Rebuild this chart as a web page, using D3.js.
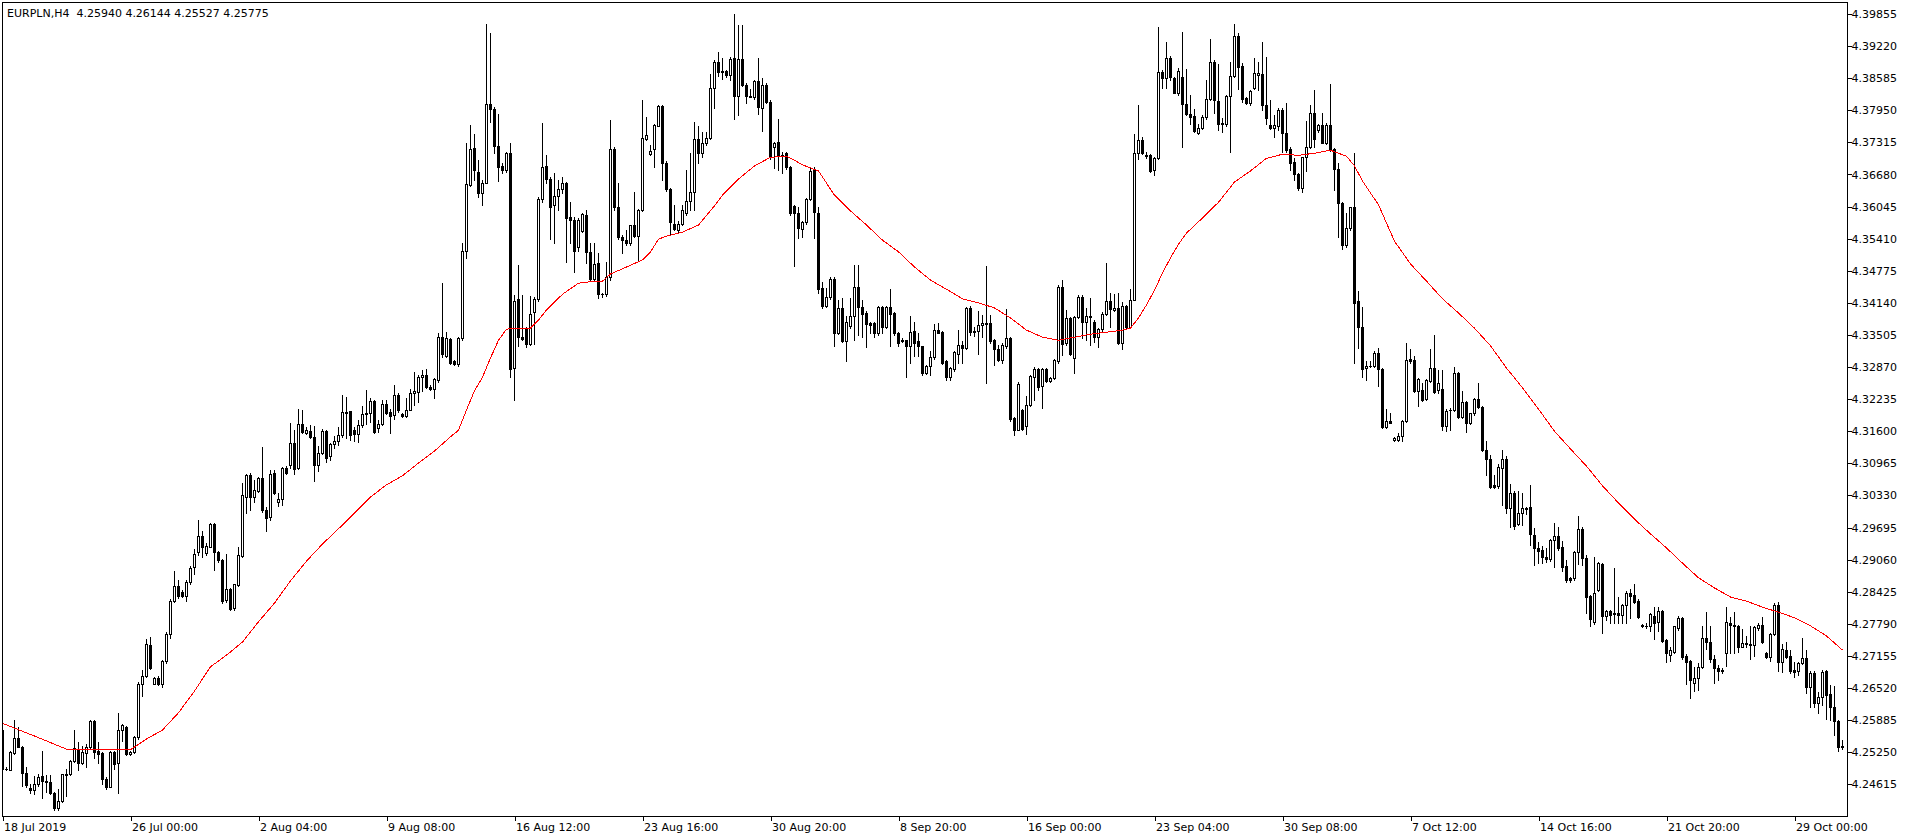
<!DOCTYPE html>
<html><head><meta charset="utf-8">
<script src="https://cdn.jsdelivr.net/npm/d3@7"></script>
<style>
html,body{margin:0;padding:0;background:#fff;overflow:hidden}
svg{display:block}
text{font-family:"DejaVu Sans",Verdana,sans-serif;font-size:11px;fill:#000}
</style></head><body>
<svg id="c" width="1916" height="840"></svg>
<script>
const symbol = "EURPLN,H4";
const lastQuote = ["4.25940","4.26144","4.25527","4.25775"];

const opens = [
4.2568,4.2492,4.2490,4.2523,4.2553,4.2536,4.2483,4.2454,4.2450,4.2462,
4.2477,4.2469,4.2466,4.2444,4.2415,4.2428,4.2481,4.2481,4.2507,4.2532,
4.2503,4.2523,4.2535,4.2587,4.2527,4.2523,4.2472,4.2457,4.2525,4.2503,
4.2568,4.2575,4.2521,4.2525,4.2555,4.2659,4.2675,4.2738,4.2660,4.2672,
4.2659,4.2705,4.2759,4.2824,4.2854,4.2842,4.2835,4.2862,4.2891,4.2921,
4.2953,4.2919,4.2931,4.2977,4.2922,4.2905,4.2827,4.2848,4.2810,4.2855,
4.2913,4.3030,4.3074,4.3029,4.3042,4.3068,4.3005,4.2990,4.3078,4.3021,
4.3025,4.3088,4.3093,4.3137,4.3088,4.3174,4.3157,4.3160,4.3148,4.3093,
4.3117,4.3160,4.3111,4.3134,4.3140,4.3152,4.3198,4.3200,4.3162,4.3155,
4.3172,4.3195,4.3196,4.3219,4.3167,4.3174,4.3214,4.3198,4.3192,4.3231,
4.3195,4.3191,4.3203,4.3236,4.3238,4.3267,4.3271,4.3248,4.3244,4.3261,
4.3346,4.3309,4.3342,4.3298,4.3293,4.3344,4.3517,4.3647,4.3720,4.3672,
4.3631,4.3652,4.3807,4.3797,4.3725,4.3685,4.3676,4.3710,4.3285,4.3421,
4.3346,4.3364,4.3333,4.3395,4.3421,4.3619,4.3685,4.3660,4.3608,4.3625,
4.3639,4.3652,4.3583,4.3578,4.3525,4.3557,4.3588,4.3514,4.3461,4.3492,
4.3431,4.3431,4.3466,4.3718,4.3603,4.3544,4.3539,4.3532,4.3568,4.3546,
4.3597,4.3738,4.3708,4.3718,4.3764,4.3803,4.3691,4.3639,4.3571,4.3558,
4.3570,4.3591,4.3616,4.3634,4.3738,4.3711,4.3730,4.3740,4.3840,4.3891,
4.3873,4.3873,4.3865,4.3898,4.3824,4.3896,4.3845,4.3824,4.3822,4.3852,
4.3799,4.3845,4.3812,4.3722,4.3732,4.3707,4.3711,4.3682,4.3606,4.3591,
4.3560,4.3573,4.3619,4.3676,4.3591,4.3443,4.3408,4.3425,4.3461,4.3355,
4.3403,4.3338,4.3369,4.3388,4.3445,4.3405,4.3394,4.3375,4.3374,4.3354,
4.3405,4.3367,4.3405,4.3394,4.3354,4.3341,4.3340,4.3328,4.3359,4.3338,
4.3328,4.3276,4.3289,4.3307,4.3361,4.3357,4.3298,4.3268,4.3283,4.3313,
4.3331,4.3324,4.3403,4.3359,4.3359,4.3371,4.3375,4.3374,4.3341,4.3322,
4.3301,4.3329,4.3344,4.3186,4.3163,4.3202,4.3170,4.3212,4.3268,4.3283,
4.3249,4.3283,4.3260,4.3265,4.3298,4.3446,4.3334,4.3384,4.3305,4.3387,
4.3426,4.3377,4.3388,4.3377,4.3346,4.3362,4.3392,4.3417,4.3399,4.3403,
4.3334,4.3407,4.3367,4.3420,4.3710,4.3736,4.3707,4.3707,4.3676,4.3700,
4.3871,4.3858,4.3898,4.3858,4.3830,4.3860,4.3807,4.3788,4.3784,4.3751,
4.3759,4.3781,4.3817,4.3891,4.3814,4.3769,4.3768,4.3823,4.3863,4.3942,
4.3882,4.3819,4.3810,4.3840,4.3865,4.3867,4.3805,4.3766,4.3759,4.3764,
4.3796,4.3751,4.3718,4.3693,4.3669,4.3641,4.3702,4.3722,4.3789,4.3756,
4.3766,4.3731,4.3766,4.3718,4.3678,4.3612,4.3529,4.3562,4.3603,4.3417,
4.3366,4.3285,4.3289,4.3289,4.3314,4.3283,4.3168,4.3181,4.3142,4.3143,
4.3151,4.3181,4.3303,4.3300,4.3239,4.3241,4.3224,4.3260,4.3285,4.3242,
4.3243,4.3171,4.3202,4.3202,4.3275,4.3188,4.3217,4.3177,4.3196,4.3224,
4.3207,4.3122,4.3105,4.3054,4.3052,4.3087,4.3105,4.3008,4.3037,4.2977,
4.2999,4.3008,4.3010,4.2955,4.2929,4.2925,4.2911,4.2907,4.2945,4.2953,
4.2930,4.2894,4.2869,4.2869,4.2922,4.2966,4.2909,4.2834,4.2783,4.2846,
4.2898,4.2795,4.2805,4.2800,4.2800,4.2797,4.2816,4.2840,4.2836,4.2825,
4.2777,4.2774,4.2774,4.2795,4.2782,4.2805,4.2747,4.2718,4.2724,4.2770,
4.2790,4.2715,4.2706,4.2661,4.2671,4.2693,4.2750,4.2744,4.2709,4.2691,
4.2688,4.2721,4.2780,4.2777,4.2775,4.2734,4.2742,4.2739,4.2737,4.2770,
4.2777,4.2722,4.2714,4.2759,4.2816,4.2704,4.2727,4.2715,4.2687,4.2685,
4.2702,4.2711,4.2654,4.2681,4.2622,4.2635,4.2685,4.2640,4.2614,4.2586,4.2538];

const highs = [
4.2569,4.2495,4.2528,4.2588,4.2575,4.2538,4.2495,4.2462,4.2477,4.2482,
4.2528,4.2479,4.2480,4.2446,4.2453,4.2482,4.2492,4.2510,4.2569,4.2545,
4.2538,4.2542,4.2589,4.2588,4.2545,4.2525,4.2476,4.2527,4.2528,4.2602,
4.2580,4.2576,4.2528,4.2558,4.2664,4.2687,4.2748,4.2753,4.2674,4.2675,
4.2708,4.2763,4.2829,4.2883,4.2865,4.2845,4.2865,4.2893,4.2928,4.2984,
4.2963,4.2938,4.2978,4.2978,4.2924,4.2908,4.2918,4.2850,4.2858,4.2931,
4.3058,4.3076,4.3078,4.3063,4.3070,4.3129,4.3010,4.3083,4.3083,4.3037,
4.3089,4.3091,4.3177,4.3162,4.3205,4.3202,4.3169,4.3172,4.3170,4.3130,
4.3165,4.3162,4.3137,4.3150,4.3169,4.3231,4.3228,4.3201,4.3169,4.3182,
4.3210,4.3241,4.3225,4.3221,4.3183,4.3221,4.3221,4.3205,4.3251,4.3235,
4.3196,4.3225,4.3243,4.3277,4.3271,4.3281,4.3283,4.3252,4.3265,4.3354,
4.3453,4.3357,4.3344,4.3300,4.3347,4.3533,4.3730,4.3766,4.3748,4.3697,
4.3657,4.3966,4.3948,4.3801,4.3788,4.3691,4.3713,4.3730,4.3430,4.3489,
4.3430,4.3367,4.3428,4.3426,4.3624,4.3769,4.3707,4.3664,4.3670,4.3657,
4.3664,4.3654,4.3614,4.3583,4.3581,4.3591,4.3598,4.3532,4.3532,4.3512,
4.3434,4.3494,4.3776,4.3723,4.3652,4.3548,4.3558,4.3569,4.3634,4.3599,
4.3815,4.3782,4.3726,4.3768,4.3805,4.3805,4.3695,4.3641,4.3608,4.3575,
4.3608,4.3677,4.3711,4.3772,4.3764,4.3753,4.3753,4.3867,4.3894,4.3911,
4.3898,4.3875,4.3900,4.3985,4.3964,4.3964,4.3848,4.3838,4.3854,4.3898,
4.3858,4.3848,4.3815,4.3733,4.3777,4.3713,4.3713,4.3685,4.3608,4.3603,
4.3575,4.3621,4.3683,4.3682,4.3604,4.3456,4.3443,4.3466,4.3465,4.3420,
4.3423,4.3388,4.3423,4.3489,4.3488,4.3420,4.3397,4.3377,4.3377,4.3408,
4.3408,4.3408,4.3441,4.3395,4.3357,4.3344,4.3341,4.3388,4.3377,4.3354,
4.3329,4.3291,4.3318,4.3372,4.3374,4.3359,4.3300,4.3288,4.3318,4.3361,
4.3338,4.3405,4.3407,4.3367,4.3397,4.3390,4.3487,4.3390,4.3342,4.3331,
4.3334,4.3401,4.3346,4.3189,4.3258,4.3204,4.3229,4.3272,4.3287,4.3285,
4.3285,4.3285,4.3268,4.3303,4.3450,4.3459,4.3400,4.3386,4.3388,4.3430,
4.3430,4.3403,4.3423,4.3380,4.3364,4.3395,4.3492,4.3433,4.3432,4.3433,
4.3415,4.3410,4.3441,4.3749,4.3805,4.3743,4.3713,4.3709,4.3703,4.3960,
4.3875,4.3931,4.3902,4.3860,4.3878,4.3950,4.3876,4.3825,4.3797,4.3768,
4.3786,4.3855,4.3937,4.3894,4.3886,4.3779,4.3825,4.3891,4.3966,4.3947,
4.3888,4.3822,4.3836,4.3898,4.3891,4.3931,4.3900,4.3815,4.3786,4.3799,
4.3799,4.3809,4.3723,4.3700,4.3670,4.3703,4.3774,4.3805,4.3835,4.3768,
4.3789,4.3769,4.3847,4.3720,4.3690,4.3614,4.3591,4.3604,4.3710,4.3438,
4.3405,4.3298,4.3298,4.3318,4.3324,4.3285,4.3204,4.3197,4.3148,4.3156,
4.3183,4.3334,4.3322,4.3309,4.3265,4.3256,4.3263,4.3322,4.3351,4.3282,
4.3282,4.3204,4.3206,4.3287,4.3278,4.3239,4.3219,4.3197,4.3225,4.3255,
4.3209,4.3141,4.3113,4.3074,4.3095,4.3123,4.3111,4.3056,4.3041,4.3041,
4.3037,4.3011,4.3054,4.2968,4.2940,4.2932,4.2929,4.2946,4.2979,4.2971,
4.2942,4.2905,4.2872,4.2924,4.2992,4.2971,4.2915,4.2836,4.2912,4.2902,
4.2899,4.2807,4.2807,4.2889,4.2833,4.2818,4.2843,4.2847,4.2858,4.2828,
4.2778,4.2780,4.2800,4.2812,4.2812,4.2807,4.2749,4.2734,4.2775,4.2795,
4.2792,4.2719,4.2708,4.2694,4.2702,4.2774,4.2803,4.2774,4.2717,4.2698,
4.2691,4.2812,4.2793,4.2803,4.2777,4.2768,4.2754,4.2774,4.2774,4.2780,
4.2792,4.2723,4.2760,4.2821,4.2823,4.2739,4.2744,4.2727,4.2704,4.2704,
4.2750,4.2727,4.2685,4.2685,4.2645,4.2688,4.2687,4.2658,4.2656,4.2588,4.2549];

const lows = [
4.2489,4.2489,4.2489,4.2522,4.2535,4.2459,4.2456,4.2444,4.2443,4.2459,
4.2435,4.2446,4.2443,4.2411,4.2410,4.2426,4.2439,4.2479,4.2505,4.2489,
4.2501,4.2495,4.2534,4.2514,4.2503,4.2462,4.2453,4.2456,4.2492,4.2444,
4.2548,4.2519,4.2519,4.2523,4.2552,4.2637,4.2674,4.2690,4.2659,4.2657,
4.2654,4.2701,4.2750,4.2822,4.2831,4.2832,4.2825,4.2858,4.2877,4.2915,
4.2912,4.2916,4.2930,4.2886,4.2901,4.2820,4.2822,4.2807,4.2806,4.2853,
4.2912,4.2998,4.3004,4.3020,4.3040,4.3000,4.2963,4.2984,4.3035,4.3012,
4.3014,4.3076,4.3088,4.3075,4.3086,4.3157,4.3154,4.3146,4.3062,4.3082,
4.3115,4.3099,4.3104,4.3126,4.3132,4.3149,4.3146,4.3142,4.3141,4.3138,
4.3169,4.3175,4.3179,4.3157,4.3159,4.3172,4.3195,4.3157,4.3185,4.3198,
4.3188,4.3188,4.3202,4.3212,4.3218,4.3240,4.3246,4.3242,4.3226,4.3257,
4.3307,4.3307,4.3293,4.3291,4.3289,4.3341,4.3502,4.3645,4.3657,4.3624,
4.3608,4.3651,4.3772,4.3711,4.3656,4.3670,4.3672,4.3267,4.3222,4.3328,
4.3341,4.3326,4.3331,4.3333,4.3417,4.3614,4.3652,4.3541,4.3533,4.3597,
4.3632,4.3494,4.3533,4.3476,4.3517,4.3555,4.3492,4.3458,4.3459,4.3423,
4.3426,4.3428,4.3459,4.3597,4.3540,4.3512,4.3529,4.3529,4.3544,4.3496,
4.3595,4.3736,4.3707,4.3683,4.3763,4.3657,4.3636,4.3548,4.3558,4.3555,
4.3568,4.3588,4.3598,4.3597,4.3691,4.3703,4.3726,4.3738,4.3799,4.3863,
4.3856,4.3860,4.3855,4.3777,4.3786,4.3843,4.3810,4.3821,4.3817,4.3788,
4.3755,4.3809,4.3698,4.3680,4.3677,4.3670,4.3678,4.3588,4.3486,4.3542,
4.3544,4.3570,4.3618,4.3542,4.3434,4.3403,4.3405,4.3421,4.3328,4.3353,
4.3336,4.3298,4.3364,4.3341,4.3351,4.3347,4.3326,4.3354,4.3346,4.3351,
4.3354,4.3364,4.3328,4.3351,4.3329,4.3336,4.3267,4.3295,4.3309,4.3309,
4.3272,4.3274,4.3272,4.3303,4.3354,4.3293,4.3262,4.3262,4.3280,4.3295,
4.3295,4.3322,4.3351,4.3349,4.3313,4.3347,4.3255,4.3334,4.3291,4.3298,
4.3295,4.3324,4.3181,4.3153,4.3162,4.3163,4.3155,4.3210,4.3221,4.3241,
4.3206,4.3258,4.3258,4.3263,4.3296,4.3311,4.3331,4.3311,4.3276,4.3384,
4.3344,4.3340,4.3331,4.3336,4.3326,4.3359,4.3390,4.3367,4.3397,4.3333,
4.3322,4.3364,4.3364,4.3419,4.3698,4.3709,4.3700,4.3672,4.3667,4.3698,
4.3840,4.3840,4.3855,4.3829,4.3825,4.3722,4.3786,4.3768,4.3753,4.3749,
4.3757,4.3777,4.3815,4.3789,4.3756,4.3753,4.3764,4.3713,4.3861,4.3838,
4.3812,4.3807,4.3805,4.3838,4.3836,4.3796,4.3768,4.3757,4.3742,4.3756,
4.3713,4.3713,4.3677,4.3657,4.3637,4.3634,4.3674,4.3720,4.3723,4.3753,
4.3730,4.3728,4.3715,4.3637,4.3545,4.3520,4.3525,4.3558,4.3295,4.3324,
4.3268,4.3262,4.3288,4.3287,4.3249,4.3166,4.3166,4.3176,4.3140,4.3140,
4.3140,4.3179,4.3296,4.3237,4.3210,4.3219,4.3221,4.3258,4.3235,4.3235,
4.3162,4.3160,4.3163,4.3201,4.3186,4.3186,4.3158,4.3175,4.3192,4.3206,
4.3120,4.3074,4.3047,4.3047,4.3047,4.3014,4.2999,4.2970,4.2966,4.2975,
4.2975,4.2996,4.2935,4.2896,4.2900,4.2899,4.2902,4.2904,4.2891,4.2925,
4.2884,4.2861,4.2861,4.2865,4.2898,4.2896,4.2800,4.2774,4.2779,4.2843,
4.2760,4.2787,4.2780,4.2780,4.2780,4.2780,4.2780,4.2790,4.2820,4.2790,
4.2772,4.2770,4.2764,4.2749,4.2764,4.2744,4.2704,4.2706,4.2721,4.2767,
4.2709,4.2660,4.2632,4.2647,4.2648,4.2691,4.2729,4.2704,4.2661,4.2668,
4.2681,4.2696,4.2722,4.2722,4.2724,4.2733,4.2734,4.2709,4.2715,4.2767,
4.2742,4.2712,4.2706,4.2757,4.2685,4.2683,4.2711,4.2681,4.2673,4.2678,
4.2700,4.2642,4.2615,4.2615,4.2602,4.2619,4.2590,4.2588,4.2559,4.2528,4.2531];

const closes = [
4.2492,4.2491,4.2525,4.2553,4.2536,4.2483,4.2461,4.2450,4.2462,4.2476,
4.2469,4.2466,4.2444,4.2415,4.2428,4.2481,4.2480,4.2507,4.2534,4.2503,
4.2525,4.2535,4.2586,4.2525,4.2522,4.2472,4.2457,4.2525,4.2502,4.2569,
4.2578,4.2521,4.2525,4.2556,4.2659,4.2675,4.2740,4.2692,4.2672,4.2660,
4.2705,4.2759,4.2824,4.2854,4.2835,4.2835,4.2862,4.2890,4.2918,4.2953,
4.2931,4.2933,4.2977,4.2921,4.2905,4.2825,4.2848,4.2809,4.2857,4.2915,
4.3033,4.3074,4.3029,4.3043,4.3068,4.3005,4.2989,4.3076,4.3037,4.3025,
4.3087,4.3078,4.3136,4.3086,4.3174,4.3159,4.3162,4.3148,4.3093,4.3117,
4.3160,4.3108,4.3134,4.3140,4.3152,4.3198,4.3197,4.3153,4.3155,4.3172,
4.3195,4.3197,4.3219,4.3159,4.3174,4.3214,4.3196,4.3190,4.3231,4.3202,
4.3191,4.3203,4.3235,4.3240,4.3267,4.3271,4.3248,4.3244,4.3263,4.3346,
4.3313,4.3344,4.3295,4.3293,4.3344,4.3517,4.3649,4.3718,4.3676,4.3631,
4.3652,4.3807,4.3797,4.3725,4.3683,4.3676,4.3711,4.3283,4.3417,4.3347,
4.3343,4.3333,4.3392,4.3421,4.3619,4.3683,4.3660,4.3603,4.3625,4.3639,
4.3652,4.3581,4.3578,4.3517,4.3577,4.3589,4.3514,4.3461,4.3491,4.3431,
4.3432,4.3466,4.3718,4.3603,4.3544,4.3539,4.3532,4.3568,4.3546,4.3597,
4.3740,4.3747,4.3715,4.3766,4.3803,4.3690,4.3639,4.3573,4.3560,4.3570,
4.3598,4.3616,4.3634,4.3738,4.3711,4.3731,4.3740,4.3840,4.3891,4.3871,
4.3871,4.3865,4.3896,4.3824,4.3896,4.3845,4.3824,4.3822,4.3852,4.3801,
4.3845,4.3812,4.3703,4.3730,4.3705,4.3705,4.3682,4.3591,4.3591,4.3562,
4.3573,4.3619,4.3675,4.3593,4.3441,4.3408,4.3425,4.3461,4.3355,4.3403,
4.3338,4.3377,4.3388,4.3445,4.3405,4.3392,4.3372,4.3371,4.3354,4.3405,
4.3367,4.3405,4.3392,4.3354,4.3334,4.3338,4.3328,4.3357,4.3334,4.3328,
4.3276,4.3289,4.3307,4.3361,4.3355,4.3296,4.3268,4.3285,4.3316,4.3331,
4.3324,4.3403,4.3357,4.3357,4.3371,4.3375,4.3372,4.3338,4.3322,4.3300,
4.3331,4.3344,4.3184,4.3163,4.3254,4.3164,4.3212,4.3270,4.3283,4.3247,
4.3283,4.3260,4.3265,4.3301,4.3446,4.3333,4.3384,4.3313,4.3387,4.3426,
4.3377,4.3388,4.3386,4.3346,4.3362,4.3392,4.3417,4.3401,4.3403,4.3334,
4.3407,4.3367,4.3420,4.3711,4.3736,4.3710,4.3705,4.3674,4.3700,4.3871,
4.3858,4.3898,4.3860,4.3830,4.3873,4.3807,4.3788,4.3782,4.3755,4.3759,
4.3781,4.3817,4.3891,4.3815,4.3768,4.3767,4.3823,4.3863,4.3942,4.3881,
4.3817,4.3810,4.3834,4.3868,4.3869,4.3805,4.3779,4.3759,4.3766,4.3796,
4.3751,4.3716,4.3690,4.3669,4.3641,4.3702,4.3723,4.3789,4.3738,4.3766,
4.3731,4.3766,4.3716,4.3678,4.3611,4.3529,4.3562,4.3603,4.3413,4.3366,
4.3283,4.3289,4.3290,4.3314,4.3283,4.3168,4.3181,4.3177,4.3146,4.3151,
4.3181,4.3301,4.3298,4.3239,4.3263,4.3222,4.3262,4.3285,4.3237,4.3255,
4.3171,4.3201,4.3202,4.3275,4.3188,4.3217,4.3177,4.3196,4.3224,4.3208,
4.3122,4.3106,4.3050,4.3050,4.3089,4.3106,4.3008,4.3037,4.2973,4.2999,
4.3008,4.3007,4.2957,4.2929,4.2924,4.2912,4.2907,4.2945,4.2953,4.2929,
4.2892,4.2866,4.2865,4.2922,4.2966,4.2909,4.2833,4.2788,4.2840,4.2899,
4.2795,4.2805,4.2797,4.2799,4.2797,4.2816,4.2840,4.2834,4.2823,4.2792,
4.2774,4.2775,4.2799,4.2780,4.2805,4.2746,4.2721,4.2727,4.2774,4.2790,
4.2714,4.2704,4.2667,4.2671,4.2693,4.2750,4.2744,4.2709,4.2691,4.2685,
4.2685,4.2782,4.2777,4.2774,4.2734,4.2741,4.2739,4.2737,4.2772,4.2777,
4.2744,4.2713,4.2759,4.2816,4.2704,4.2729,4.2714,4.2685,4.2683,4.2702,
4.2711,4.2654,4.2681,4.2623,4.2634,4.2683,4.2638,4.2614,4.2586,4.2535,4.2536];

// Moving average (red line), read at these bar numbers
const maBars = [0,8,16,24,32,36,40,44,48,52,56,60,64,68,72,76,80,84,88,92,96,100,104,108,112,114,116,118,120,122,124,126,128,132,134,136,140,144,148,150,152,156,160,162,164,166,170,174,178,180,184,188,192,196,198,200,204,208,212,216,220,224,228,232,236,240,244,248,252,256,260,264,268,272,276,280,282,284,286,288,290,292,294,296,300,304,308,312,316,320,324,328,332,336,338,340,344,348,352,356,360,364,368,372,376,380,384,388,392,396,400,404,408,412,416,420,424,428,432,436,440,444,448,452,456,460];
const maValues = [4.2582,4.2557,4.2531,4.2530,4.2530,4.2551,4.2569,4.2603,4.2646,4.2694,4.2717,4.2743,4.2783,4.2820,4.2864,4.2903,4.2937,4.2967,4.2998,4.3030,4.3054,4.3072,4.3097,4.3121,4.3149,4.3162,4.3202,4.3240,4.3267,4.3305,4.3340,4.3362,4.3364,4.3364,4.3380,4.3400,4.3431,4.3453,4.3457,4.3457,4.3471,4.3485,4.3499,4.3515,4.3540,4.3546,4.3554,4.3568,4.3606,4.3627,4.3659,4.3685,4.3702,4.3704,4.3696,4.3687,4.3675,4.3627,4.3596,4.3568,4.3538,4.3515,4.3485,4.3459,4.3441,4.3422,4.3414,4.3404,4.3384,4.3360,4.3346,4.3340,4.3346,4.3352,4.3356,4.3360,4.3364,4.3384,4.3410,4.3439,4.3473,4.3503,4.3530,4.3552,4.3582,4.3613,4.3653,4.3675,4.3700,4.3708,4.3706,4.3710,4.3716,4.3704,4.3685,4.3655,4.3608,4.3536,4.3491,4.3457,4.3422,4.3394,4.3364,4.3329,4.3285,4.3246,4.3204,4.3160,4.3125,4.3091,4.3052,4.3018,4.2986,4.2957,4.2929,4.2899,4.2870,4.2850,4.2832,4.2824,4.2812,4.2802,4.2791,4.2775,4.2755,4.2727];

const priceTicks = [4.39855,4.39220,4.38585,4.37950,4.37315,4.36680,4.36045,4.35410,4.34775,4.34140,4.33505,4.32870,4.32235,4.31600,4.30965,4.30330,4.29695,4.29060,4.28425,4.27790,4.27155,4.26520,4.25885,4.25250,4.24615];
const timeTickBars = [0,32,64,96,128,160,192,224,256,288,320,352,384,416,448];
const timeTickLabels = ["18 Jul 2019","26 Jul 00:00","2 Aug 04:00","9 Aug 08:00","16 Aug 12:00","23 Aug 16:00","30 Aug 20:00","8 Sep 20:00","16 Sep 00:00","23 Sep 04:00","30 Sep 08:00","7 Oct 12:00","14 Oct 16:00","21 Oct 20:00","29 Oct 00:00"];

const svg = d3.select("#c");
const plot = {l:2, t:2, r:1847, b:816};
const x = d3.scaleLinear().domain([0, opens.length - 1]).range([2, 1842]);
const y = d3.scaleLinear().domain([4.24615, 4.39855]).range([784.3, 14]);

svg.append("rect").attr("width",1916).attr("height",840).attr("fill","#fff");
svg.append("defs").append("clipPath").attr("id","pc").append("rect")
  .attr("x",plot.l).attr("y",plot.t).attr("width",plot.r-plot.l).attr("height",plot.b-plot.t);

const g = svg.append("g").attr("clip-path","url(#pc)").attr("shape-rendering","crispEdges");
const bars = opens.map((o,i)=>({i, o, h:highs[i], l:lows[i], c:closes[i]}));
const cg = g.selectAll("g.candle").data(bars).join("g").attr("class","candle");
cg.append("line")
  .attr("x1",d=>Math.round(x(d.i))+0.5).attr("x2",d=>Math.round(x(d.i))+0.5)
  .attr("y1",d=>Math.round(y(d.h))).attr("y2",d=>Math.round(y(d.l))+1)
  .attr("stroke","#000").attr("stroke-width",1);
cg.each(function(d){
  const s = d3.select(this);
  const cx = Math.round(x(d.i));
  const yo = Math.round(y(d.o)), yc = Math.round(y(d.c));
  if (yo === yc) {
    s.append("line").attr("x1",cx-1).attr("x2",cx+2).attr("y1",yo+0.5).attr("y2",yo+0.5).attr("stroke","#000");
  } else if (d.c > d.o) {
    s.append("rect").attr("x",cx-0.5).attr("y",yc+0.5).attr("width",2).attr("height",yo-yc)
      .attr("fill","#fff").attr("stroke","#000").attr("stroke-width",1);
  } else {
    s.append("rect").attr("x",cx-1).attr("y",yo).attr("width",3).attr("height",yc-yo+1).attr("fill","#000");
  }
});

const maData = maBars.map((b,k)=>({b, v:maValues[k]}));
svg.append("g").attr("clip-path","url(#pc)").append("path").datum(maData)
  .attr("fill","none").attr("stroke","#ff0000").attr("stroke-width",1)
  .attr("shape-rendering","crispEdges")
  .attr("d", d3.line().x(d=>x(d.b)+0.5).y(d=>y(d.v)));

// frame
svg.append("rect").attr("x",2.5).attr("y",2.5).attr("width",1845).attr("height",814)
  .attr("fill","none").attr("stroke","#000").attr("shape-rendering","crispEdges");

// price axis
const ya = svg.append("g").attr("transform","translate(1847.5,0)")
  .call(d3.axisRight(y).tickValues(priceTicks).tickSize(4).tickPadding(0).tickFormat(d3.format(".5f")));
ya.select(".domain").remove();
ya.selectAll("line").attr("stroke","#000").attr("shape-rendering","crispEdges");
ya.selectAll("text").attr("fill","#000").style("font-family",'"DejaVu Sans",Verdana,sans-serif').style("font-size","11px");

// time axis
const xa = svg.append("g").attr("transform","translate(0.5,816.5)")
  .call(d3.axisBottom(x).tickValues(timeTickBars).tickSize(4).tickPadding(3).tickFormat((d,i)=>timeTickLabels[i]));
xa.select(".domain").remove();
xa.selectAll("line").attr("stroke","#000").attr("shape-rendering","crispEdges");
xa.selectAll("text").attr("text-anchor","start").attr("x",1).attr("fill","#000")
  .style("font-family",'"DejaVu Sans",Verdana,sans-serif').style("font-size","11px");

// header
svg.append("text").attr("x",7).attr("y",17).style("white-space","pre")
  .text(symbol + "  " + lastQuote.join(" "));
</script>
</body></html>
